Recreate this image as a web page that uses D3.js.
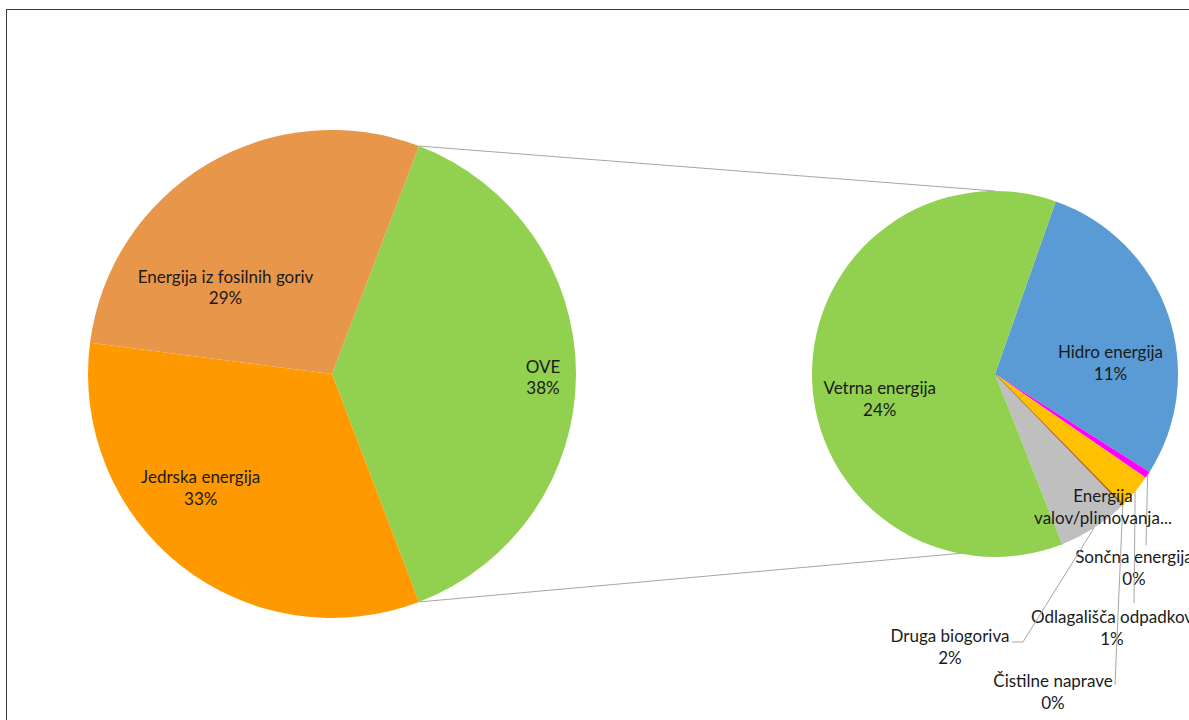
<!DOCTYPE html>
<html>
<head>
<meta charset="utf-8">
<script src="https://cdn.jsdelivr.net/npm/d3@7"></script>
<style>
  body { margin: 0; background: #fff; }
  svg text { font-family: Lato, "Noto Sans", sans-serif; font-size: 17px; fill: #1a1a1a; }
</style>
</head>
<body>
<svg id="chart"></svg>
<script>
// primary pie (OVE is the split slice, shown in detail on the right)
var mainNames = ["OVE", "Jedrska energija", "Energija iz fosilnih goriv"];
var mainValues = [null, 32.9, 28.8];   // OVE = sum of the detail slices

// secondary pie, share of total (%)
var subNames = ["Hidro energija", "Sončna energija", "Odlagališča odpadkov", "Čistilne naprave",
                "Energija valov/plimovanja...", "Druga biogoriva", "Vetrna energija"];
var subValues = [11.0, 0.23, 1.17, 0.05, 0, 2.4, 23.6];

var mainColors = ["#92d050", "#ff9900", "#e8964a"];
var subColors = ["#5b9bd5", "#ff00ff", "#ffc000", "#b8652a", "#a5a5a5", "#bfbfbf", "#92d050"];

var width = 1189, height = 720;
var deg = Math.PI / 180;

var svg = d3.select("#chart").attr("width", width).attr("height", height);

// frame
svg.append("rect")
    .attr("x", 6.5).attr("y", 9.5)
    .attr("width", 1300).attr("height", 800)
    .attr("fill", "none").attr("stroke", "#3a3a3a");

var oveTotal = d3.sum(subValues);
mainValues[0] = oveTotal;
var total = d3.sum(mainValues);
var pct = function (v) { return Math.round(v / total * 100) + "%"; };

var mainData = mainNames.map(function (n, i) { return { name: n, value: mainValues[i], color: mainColors[i] }; });
var subData = subNames.map(function (n, i) { return { name: n, value: subValues[i], color: subColors[i] }; });

// layout
var c1 = [332, 374], r1 = 244;
var c2 = [995, 374], r2 = 183;
var oveSpan = oveTotal / total * 2 * Math.PI;
var mainStart = Math.PI / 2 - oveSpan / 2;
var subStart = 19.4 * deg;

// label positions inside slices: polar (deg, px) from pie centre
var innerLabels = {
    "OVE": [91, 211],
    "Jedrska energija": [229, 174],
    "Energija iz fosilnih goriv": [309, 137],
    "Hidro energija": [84.6, 116],
    "Vetrna energija": [257.7, 118]
};
// outside labels: [label dx, first baseline dy] from pie centre, plus leader end points
var outerLabels = {
    "Sončna energija": { text: [139, 189], leader: [[151, 171]] },
    "Odlagališča odpadkov": { text: [117, 249], leader: [[139, 229]] },
    "Čistilne naprave": { text: [58, 313], leader: [[120, 311]] },
    "Druga biogoriva": { text: [-45, 268], leader: [[28, 268], [17, 268]] },
    "Energija valov/plimovanja...": { text: [108, 128], lines: ["Energija", "valov/plimovanja..."] }
};

var pieMain = d3.pie().sort(null).value(function (d) { return d.value; })
    .startAngle(mainStart).endAngle(mainStart + 2 * Math.PI);
var pieSub = d3.pie().sort(null).value(function (d) { return d.value; })
    .startAngle(subStart).endAngle(subStart + 2 * Math.PI);

var arcMain = d3.arc().innerRadius(0).outerRadius(r1);
var arcSub = d3.arc().innerRadius(0).outerRadius(r2);
var edgeSub = d3.arc().innerRadius(r2).outerRadius(r2);

var mainArcs = pieMain(mainData);
var subArcs = pieSub(subData);

function polar(c, a, r) { return [c[0] + r * Math.sin(a), c[1] - r * Math.cos(a)]; }

// connector lines between the two pies
var ove = mainArcs[0];
var vet = subArcs[subArcs.length - 1];
var conn = [
    [polar(c1, ove.startAngle, r1), polar(c2, 0, r2)],
    [polar(c1, ove.endAngle, r1), polar(c2, vet.startAngle, r2)]
];
svg.selectAll(".conn").data(conn).enter().append("line")
    .attr("class", "conn")
    .attr("x1", function (d) { return d[0][0]; }).attr("y1", function (d) { return d[0][1]; })
    .attr("x2", function (d) { return d[1][0]; }).attr("y2", function (d) { return d[1][1]; })
    .attr("stroke", "#a6a6a6").attr("stroke-width", 1);

var g1 = svg.append("g").attr("transform", "translate(" + c1 + ")");
g1.selectAll("path").data(mainArcs).enter().append("path")
    .attr("d", arcMain)
    .attr("fill", function (d) { return d.data.color; });

var g2 = svg.append("g").attr("transform", "translate(" + c2 + ")");
g2.selectAll("path").data(subArcs.filter(function (d) { return d.value > 0; })).enter().append("path")
    .attr("d", arcSub)
    .attr("fill", function (d) { return d.data.color; })
    .attr("stroke", function (d) { return d.data.value < 0.1 ? d.data.color : "none"; })
    .attr("stroke-width", 1);

function twoLines(g, x, y, lines) {
    var t = g.append("text").attr("text-anchor", "middle");
    lines.forEach(function (s, i) {
        t.append("tspan").attr("x", x).attr("y", y + i * 21.5).text(s);
    });
}

// inner labels
function innerLabel(g, d) {
    var p = innerLabels[d.data.name];
    if (!p) return false;
    var a = p[0] * deg;
    var x = p[1] * Math.sin(a), y = -p[1] * Math.cos(a);
    twoLines(g, x, y - 5, [d.data.name, pct(d.data.value)]);
    return true;
}
mainArcs.forEach(function (d) { innerLabel(g1, d); });

subArcs.forEach(function (d) {
    if (innerLabel(g2, d)) return;
    var o = outerLabels[d.data.name];
    if (!o) return;
    if (o.leader) {
        var pts = [edgeSub.centroid(d)].concat(o.leader);
        g2.append("path")
            .attr("d", d3.line()(pts))
            .attr("fill", "none").attr("stroke", "#a6a6a6").attr("stroke-width", 1);
    }
    twoLines(g2, o.text[0], o.text[1], o.lines || [d.data.name, pct(d.data.value)]);
});
</script>
</body>
</html>
